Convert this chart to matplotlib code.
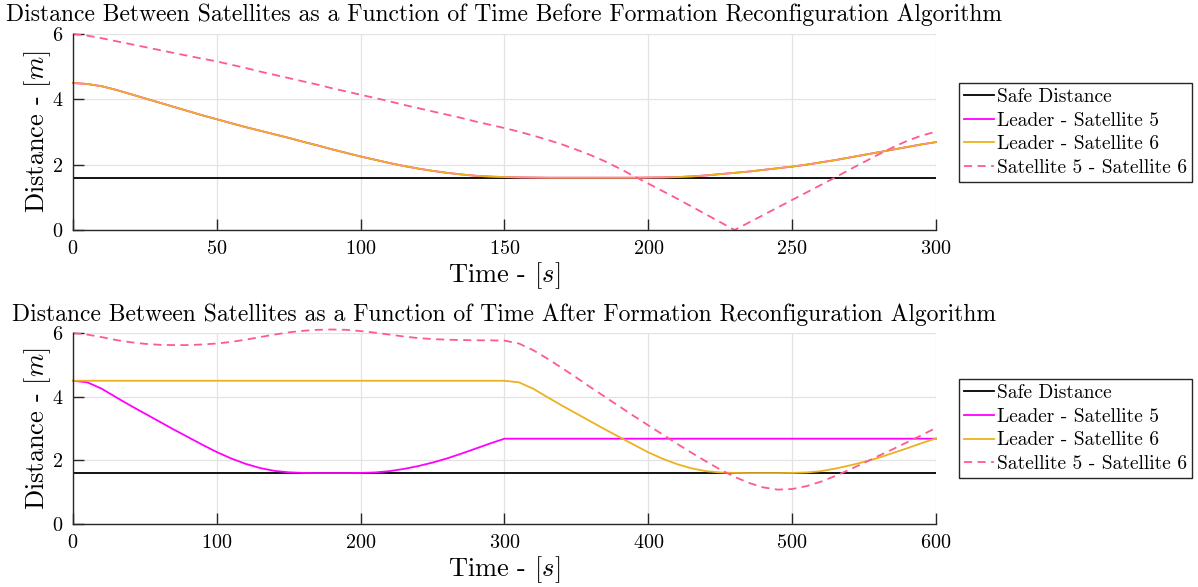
import numpy as np
import matplotlib.pyplot as plt

plt.rcParams['font.family'] = 'serif'
plt.rcParams['font.serif'] = ['cmr10']
plt.rcParams['mathtext.fontset'] = 'cm'
plt.rcParams['axes.formatter.use_mathtext'] = True
plt.rcParams['axes.unicode_minus'] = False

SAFE_DISTANCE = 1.6

# before reconfiguration, sampled every 5 s
t_before = np.arange(0, 301, 5)
leader_sat5_before = [4.50, 4.47, 4.40, 4.29, 4.16, 4.03, 3.90, 3.77, 3.64, 3.51,
                      3.39, 3.27, 3.15, 3.04, 2.93, 2.82, 2.70, 2.59, 2.47, 2.36,
                      2.25, 2.15, 2.05, 1.96, 1.88, 1.81, 1.75, 1.70, 1.66, 1.635,
                      1.62, 1.61, 1.605, 1.60, 1.60, 1.60, 1.60, 1.60, 1.60, 1.60,
                      1.605, 1.61, 1.62, 1.64, 1.67, 1.71, 1.75, 1.79, 1.84, 1.89,
                      1.94, 2.00, 2.07, 2.14, 2.22, 2.30, 2.38, 2.46, 2.54, 2.62,
                      2.69]
leader_sat6_before = list(leader_sat5_before)
sat5_sat6_before = [6.00, 5.95, 5.87, 5.78, 5.69, 5.60, 5.51, 5.42, 5.33, 5.245,
                    5.16, 5.06, 4.96, 4.85, 4.75, 4.65, 4.55, 4.45, 4.34, 4.24,
                    4.14, 4.04, 3.94, 3.83, 3.73, 3.63, 3.53, 3.43, 3.32, 3.22,
                    3.12, 3.01, 2.89, 2.76, 2.62, 2.46, 2.29, 2.10, 1.88, 1.65,
                    1.42, 1.19, 0.96, 0.72, 0.48, 0.24, 0.00, 0.23, 0.46, 0.69,
                    0.92, 1.15, 1.38, 1.61, 1.85, 2.08, 2.31, 2.53, 2.73, 2.89,
                    3.01]

# after reconfiguration, sampled every 10 s
t_after = np.arange(0, 601, 10)
leader_sat5_after = [4.50, 4.45, 4.25, 3.98, 3.72, 3.47, 3.22, 2.97, 2.73, 2.49,
                     2.26, 2.06, 1.89, 1.76, 1.67, 1.625, 1.605, 1.60, 1.60, 1.60,
                     1.605, 1.62, 1.66, 1.73, 1.82, 1.93, 2.06, 2.21, 2.37, 2.53,
                     2.68, 2.68, 2.68, 2.68, 2.68, 2.68, 2.68, 2.68, 2.68, 2.68,
                     2.68, 2.68, 2.68, 2.68, 2.68, 2.68, 2.68, 2.68, 2.68, 2.68,
                     2.68, 2.68, 2.68, 2.68, 2.68, 2.68, 2.68, 2.68, 2.68, 2.68,
                     2.68]
leader_sat6_after = [4.50, 4.50, 4.50, 4.50, 4.50, 4.50, 4.50, 4.50, 4.50, 4.50,
                     4.50, 4.50, 4.50, 4.50, 4.50, 4.50, 4.50, 4.50, 4.50, 4.50,
                     4.50, 4.50, 4.50, 4.50, 4.50, 4.50, 4.50, 4.50, 4.50, 4.50,
                     4.50, 4.45, 4.25, 3.98, 3.72, 3.47, 3.22, 2.97, 2.73, 2.49,
                     2.25, 2.05, 1.88, 1.75, 1.66, 1.62, 1.605, 1.60, 1.60, 1.60,
                     1.605, 1.62, 1.66, 1.74, 1.84, 1.95, 2.08, 2.23, 2.38, 2.54,
                     2.69]
sat5_sat6_after = [6.00, 5.95, 5.87, 5.78, 5.71, 5.66, 5.63, 5.62, 5.62, 5.64,
                   5.67, 5.72, 5.79, 5.87, 5.95, 6.02, 6.07, 6.10, 6.11, 6.10,
                   6.06, 6.01, 5.95, 5.89, 5.84, 5.81, 5.79, 5.78, 5.77, 5.77,
                   5.76, 5.67, 5.46, 5.19, 4.90, 4.60, 4.29, 3.99, 3.69, 3.39,
                   3.10, 2.81, 2.52, 2.24, 1.97, 1.71, 1.48, 1.29, 1.15, 1.08,
                   1.10, 1.19, 1.33, 1.51, 1.71, 1.92, 2.14, 2.35, 2.57, 2.79,
                   3.02]

labels = ['Safe Distance', 'Leader - Satellite 5', 'Leader - Satellite 6',
          'Satellite 5 - Satellite 6']
titles = ['Distance Between Satellites as a Function of Time Before Formation Reconfiguration Algorithm',
          'Distance Between Satellites as a Function of Time After Formation Reconfiguration Algorithm']

C_SAFE = 'black'
C_SAT5 = '#FF00FF'
C_SAT6 = '#EDB120'
C_PAIR = '#FF5A8C'


def draw_panel(ax, t, s5, s6, pair, title, xticks, legend_y):
    ax.axhline(SAFE_DISTANCE, color=C_SAFE, lw=1.3, label=labels[0])
    ax.plot(t, s5, color=C_SAT5, lw=1.3, label=labels[1], clip_on=False)
    ax.plot(t, s6, color=C_SAT6, lw=1.3, label=labels[2], clip_on=False)
    ax.plot(t, pair, color=C_PAIR, lw=1.3, ls=(0, (4.5, 3)), label=labels[3],
            clip_on=False)

    ax.set_xlim(t[0], t[-1])
    ax.set_ylim(0, 6)
    ax.set_xticks(xticks)
    ax.set_yticks([0, 2, 4, 6])
    ax.grid(True, color='#E3E3E3', lw=0.9)
    ax.set_axisbelow(True)
    for side in ('top', 'right'):
        ax.spines[side].set_visible(False)
    for side in ('left', 'bottom'):
        ax.spines[side].set_color('#262626')
        ax.spines[side].set_linewidth(1.0)
    ax.tick_params(direction='in', length=8, width=1.0, color='#262626',
                   labelsize=14.5, pad=7)
    ax.set_title(title, fontsize=17, pad=9)
    ax.set_xlabel(r'Time - $[s]$', fontsize=19, labelpad=2)
    ax.set_ylabel(r'Distance - $[m]$', fontsize=19, labelpad=-1)

    leg = ax.legend(loc='upper left', bbox_to_anchor=(0.8005, legend_y),
                    bbox_transform=ax.figure.transFigure, borderaxespad=0,
                    fontsize=14, handlelength=1.55, handletextpad=0.15,
                    labelspacing=0.3, borderpad=0.25, fancybox=False,
                    framealpha=1)
    leg.get_frame().set_edgecolor('#262626')
    leg.get_frame().set_linewidth(1.0)


fig = plt.figure(figsize=(11.98, 5.87), dpi=100)
ax_top = fig.add_axes([0.0609, 0.6082, 0.7204, 0.3339])
ax_bot = fig.add_axes([0.0609, 0.1073, 0.7204, 0.3254])

draw_panel(ax_top, t_before, leader_sat5_before, leader_sat6_before,
           sat5_sat6_before, titles[0], range(0, 301, 50), 0.8586)
draw_panel(ax_bot, t_after, leader_sat5_after, leader_sat6_after,
           sat5_sat6_after, titles[1], range(0, 601, 100), 0.3543)

fig.savefig('out.png', dpi=100)
